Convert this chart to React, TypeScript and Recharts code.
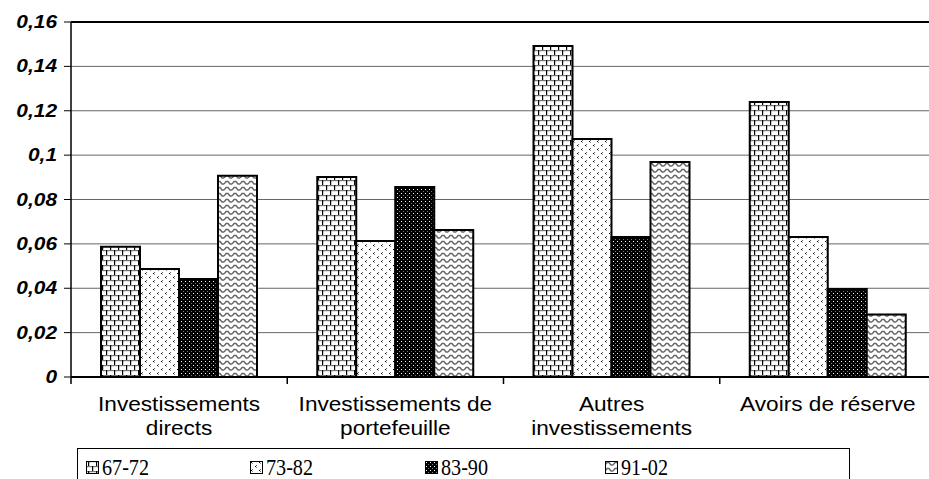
import React from "react";
import {
  BarChart,
  Bar,
  XAxis,
  YAxis,
  CartesianGrid,
  ReferenceLine,
} from "recharts";

// categories (line breaks = how the axis label wraps)
const categories = [
  "Investissements\ndirects",
  "Investissements de\nportefeuille",
  "Autres\ninvestissements",
  "Avoirs de réserve",
];

// series values per period
const p6772 = [0.0587, 0.0901, 0.1492, 0.1239];
const p7382 = [0.0487, 0.0613, 0.1073, 0.0631];
const p8390 = [0.0442, 0.0856, 0.0631, 0.0397];
const p9102 = [0.0907, 0.0662, 0.0969, 0.0282];

const yTicks = [0, 0.02, 0.04, 0.06, 0.08, 0.1, 0.12, 0.14, 0.16];

const series = [
  { key: "p6772", name: "67-72", fill: "url(#pBrick)" },
  { key: "p7382", name: "73-82", fill: "url(#pDash)" },
  { key: "p8390", name: "83-90", fill: "url(#pDark)" },
  { key: "p9102", name: "91-02", fill: "url(#pWave)" },
];

const data = categories.map((c, i) => ({
  category: c,
  p6772: p6772[i],
  p7382: p7382[i],
  p8390: p8390[i],
  p9102: p9102[i],
}));

const TICK = 7;
const STRETCH = 1.16;
const SANS = "'Liberation Sans', Arial, sans-serif";
const SERIF = "'Liberation Serif', 'Times New Roman', serif";

const fmt = (v: number) =>
  v === 0 ? "0" : String(+v.toFixed(2)).replace(".", ",");

const CategoryTick = ({ x, y, payload }: any) => {
  const lines = String(payload.value).split("\n");
  const half = payload.offset ?? 108;
  const axisY = y - TICK;
  return (
    <g>
      <line
        x1={x - half}
        x2={x - half}
        y1={axisY}
        y2={axisY + TICK}
        stroke="#000"
        strokeWidth={1.5}
      />
      {lines.map((l, i) => (
        <text
          key={i}
          transform={`translate(${x},${axisY + 34 + i * 24}) scale(${STRETCH},1)`}
          textAnchor="middle"
          fontFamily={SANS}
          fontSize={19.5}
          fill="#000"
        >
          {l}
        </text>
      ))}
    </g>
  );
};

const ValueTick = ({ x, y, payload }: any) => (
  <text
    transform={`translate(${x},${y + 6}) scale(${STRETCH},1)`}
    textAnchor="end"
    fontFamily={SANS}
    fontSize={18}
    fontWeight="bold"
    fontStyle="italic"
    fill="#000"
  >
    {fmt(payload.value)}
  </text>
);

const Swatch = ({ fill }: { fill: string }) => (
  <svg width={13} height={13} style={{ display: "block" }}>
    <rect x={0.5} y={0.5} width={12} height={12} fill={fill} stroke="#000" strokeWidth={1} />
  </svg>
);

const itemWidths = [164, 175, 180, 120];

const LegendBox = () => (
  <div
    style={{
      position: "absolute",
      left: 77,
      top: 448,
      width: 773,
      height: 40,
      border: "1px solid #000",
      boxSizing: "border-box",
      display: "flex",
      alignItems: "flex-start",
      paddingLeft: 8,
      paddingTop: 5,
      fontFamily: SERIF,
      fontSize: 24,
      background: "#fff",
    }}
  >
    {series.map((s, i) => (
      <div
        key={s.key}
        style={{ width: itemWidths[i], display: "flex", alignItems: "center", gap: 3 }}
      >
        <Swatch fill={s.fill} />
        <span
          style={{
            lineHeight: "26px",
            display: "inline-block",
            transform: "scaleX(0.84)",
            transformOrigin: "left center",
          }}
        >
          {s.name}
        </span>
      </div>
    ))}
  </div>
);

export default function App() {
  return (
    <div
      style={{
        position: "fixed",
        left: 0,
        top: 0,
        width: 929,
        height: 479,
        overflow: "hidden",
        background: "#fff",
      }}
    >
      <BarChart
        width={940}
        height={479}
        data={data}
        margin={{ top: 22, right: 4, left: 0, bottom: 42 }}
        barGap={0}
      >
        <defs>
          <pattern id="pBrick" width={8} height={10} patternUnits="userSpaceOnUse">
            <rect width={8} height={10} fill="#fff" />
            <rect x={0} y={0} width={8} height={1.2} fill="#777" />
            <rect x={0} y={5} width={8} height={1.2} fill="#777" />
            <rect x={2} y={0} width={1.2} height={5} fill="#000" />
            <rect x={6} y={5} width={1.2} height={5} fill="#000" />
          </pattern>
          <pattern id="pDash" width={8} height={8} patternUnits="userSpaceOnUse">
            <rect width={8} height={8} fill="#fff" />
            <rect x={2} y={0} width={1} height={1} fill="#666" />
            <rect x={1} y={1} width={1} height={1} fill="#000" />
            <rect x={2} y={2} width={1} height={1} fill="#888" />
            <rect x={6} y={4} width={1} height={1} fill="#666" />
            <rect x={5} y={5} width={1} height={1} fill="#000" />
            <rect x={6} y={6} width={1} height={1} fill="#888" />
          </pattern>
          <pattern id="pDark" width={4} height={4} patternUnits="userSpaceOnUse">
            <rect width={4} height={4} fill="#000" />
            <rect x={1} y={1} width={1} height={1} fill="#fff" />
            <rect x={3} y={3} width={1} height={1} fill="#777" />
          </pattern>
          <pattern id="pWave" width={8} height={6} patternUnits="userSpaceOnUse">
            <rect width={8} height={6} fill="#fff" />
            <path d="M0 4 L2 1.5 L4 1.5 L6 4 L8 4" fill="none" stroke="#666" strokeWidth={1.4} />
          </pattern>
        </defs>
        <CartesianGrid vertical={false} stroke="#666" strokeWidth={1} />
        <XAxis
          dataKey="category"
          interval={0}
          tickLine={false}
          tickSize={TICK}
          tickMargin={0}
          axisLine={{ stroke: "#000", strokeWidth: 2 }}
          tick={<CategoryTick />}
          height={60}
        />
        <YAxis
          domain={[0, 0.16]}
          ticks={yTicks}
          width={71}
          tickSize={TICK}
          tickMargin={7}
          axisLine={{ stroke: "#000", strokeWidth: 1.5 }}
          tickLine={{ stroke: "#000" }}
          tick={<ValueTick />}
        />
        <ReferenceLine y={0.16} stroke="#000" strokeWidth={2} />
        {series.map((s) => (
          <Bar
            key={s.key}
            dataKey={s.key}
            name={s.name}
            fill={s.fill}
            stroke="#000"
            strokeWidth={2}
            barSize={39}
            isAnimationActive={false}
          />
        ))}
      </BarChart>
      <LegendBox />
    </div>
  );
}
